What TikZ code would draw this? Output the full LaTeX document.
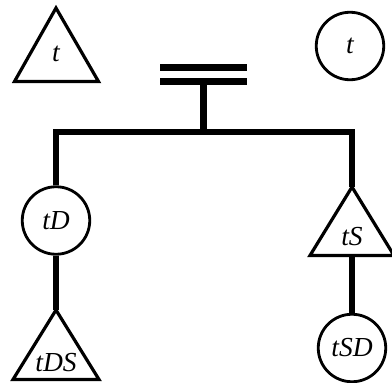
\documentclass[tikz,border=0pt]{standalone}
\usepackage{fontspec}
\setmainfont{Liberation Serif}
\begin{document}
\begin{tikzpicture}[x=1pt,y=-1pt,
  lbl/.style={inner sep=0pt,font=\fontsize{27.5}{30}\selectfont\itshape},
  triline/.style={line width=3.2pt,line join=miter},
  circ/.style={draw,circle,minimum size=67.5pt,inner sep=0pt,line width=2.8pt,font=\fontsize{27.5}{30}\selectfont\itshape},
  conn/.style={line width=6.5pt,line join=miter},
  bar/.style={line width=6.5pt}]
\useasboundingbox (0,0) rectangle (392,383);
% top-left triangle
\coordinate (ttria) at (56,8);
\draw[triline] (ttria) -- (14.5,81.5) -- (98.5,81.5) -- cycle;
\node[lbl] (ttri) at (56,54) {t};
% top-right circle
\node[circ] (tcirc) at (350,46) {t};
% left branch
\node[circ] (tD) at (56,220.5) {tD};
\coordinate (tDSa) at (56,310);
\draw[triline] (tDSa) -- (13,379.5) -- (99,379.5) -- cycle;
\node[lbl] (tDS) at (56,363) {tDS};
% right branch
\coordinate (tSa) at (352,187);
\draw[triline] (tSa) -- (310,255.5) -- (394,255.5) -- cycle;
\node[lbl] (tS) at (352,237) {tS};
\coordinate (tSb) at (352,255.5);
\node[circ] (tSD) at (352,348) {tSD};
% marriage bars and connectors
\coordinate (b1l) at (160,67.5);
\coordinate (b1r) at (247,67.5);
\coordinate (b2l) at (160,81.3);
\coordinate (b2r) at (247,81.3);
\coordinate (b2m) at (203.5,81.3);
\coordinate (j) at (203.5,132);
\draw[bar] (b1l) -- (b1r);
\draw[bar] (b2l) -- (b2r);
\draw[conn] (j) -- (b2m);
\draw[conn] (tD.north) |- (j) -| (tSa);
\draw[conn] (tD.south) -- (tDSa);
\draw[conn] (tSb) -- (tSD.north);
\end{tikzpicture}
\end{document}
